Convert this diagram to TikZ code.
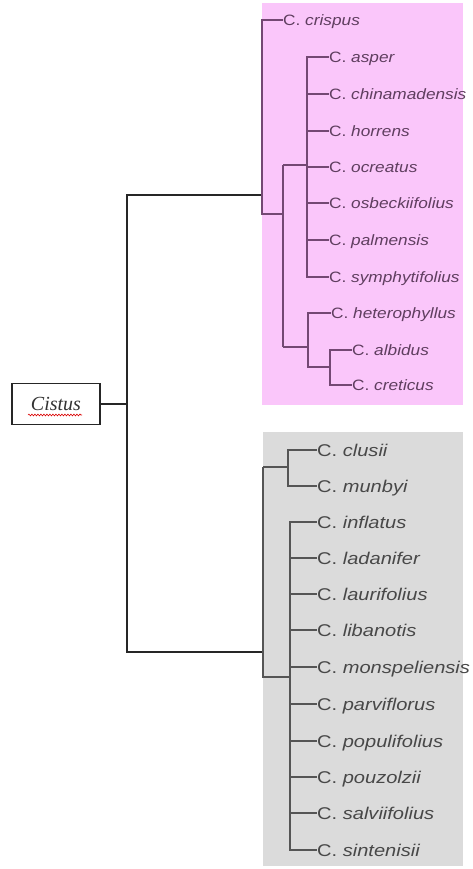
\documentclass[tikz,border=0pt]{standalone}
\usepackage{fontspec}
\usetikzlibrary{decorations.pathmorphing}
\newfontfamily\pinkfont{Liberation Sans}[FakeStretch=1.15]
\newfontfamily\grayfont{Liberation Sans}[FakeStretch=1.18]
\newfontfamily\rootfont{Liberation Serif}
\definecolor{pinkbg}{RGB}{250,198,250}
\definecolor{graybg}{RGB}{219,219,219}
\definecolor{pinkline}{RGB}{115,72,115}
\definecolor{pinktext}{RGB}{95,62,95}
\definecolor{grayline}{RGB}{85,85,85}
\definecolor{graytext}{RGB}{72,72,72}
\tikzset{
  plab/.style={anchor=west, inner sep=0pt, text=pinktext,
    font=\pinkfont\fontsize{15}{18}\selectfont, text height=10.7pt, text depth=0pt},
  glab/.style={anchor=west, inner sep=0pt, text=graytext,
    font=\grayfont\fontsize{17}{20}\selectfont, text height=12.2pt, text depth=0pt},
  pl/.style={draw=pinkline, line width=1.2pt},
  gl/.style={draw=grayline, line width=1.2pt},
  tl/.style={draw=black!85, line width=1.2pt},
  rootbox/.style={draw=black!85, line width=1.2pt, minimum width=88pt, minimum height=41pt,
    inner sep=0pt, font=\rootfont\itshape\fontsize{20}{22}\selectfont, text=black!80},
  wavy/.style={draw=red!85!black, line width=0.6pt, decorate,
    decoration={snake, amplitude=0.9pt, segment length=3pt}}
}
\begin{document}
\begin{tikzpicture}[x=1pt,y=1pt]
\useasboundingbox (0,0) rectangle (472,-869);
% backgrounds
\fill[pinkbg] (262,-3) rectangle (463,-405);
\fill[graybg] (263,-432) rectangle (463,-866);

% root
\node[rootbox] (root) at (56,-404) {Cistus};
\coordinate (w1) at (28,-415);
\coordinate (w2) at (82,-415);
\draw[wavy] (w1) -- (w2);

% upper leaves
\node[plab] (crispus) at (283,-20) {C. \textit{crispus}};
\node[plab] (asper) at (329,-57) {C. \textit{asper}};
\node[plab] (chin) at (329,-94) {C. \textit{chinamadensis}};
\node[plab] (horr) at (329,-131) {C. \textit{horrens}};
\node[plab] (ocre) at (329,-167) {C. \textit{ocreatus}};
\node[plab] (osbe) at (329,-203) {C. \textit{osbeckiifolius}};
\node[plab] (palm) at (329,-240) {C. \textit{palmensis}};
\node[plab] (symp) at (329,-277) {C. \textit{symphytifolius}};
\node[plab] (hete) at (331,-313) {C. \textit{heterophyllus}};
\node[plab] (albi) at (352,-350) {C. \textit{albidus}};
\node[plab] (cret) at (352,-385) {C. \textit{creticus}};

% lower leaves
\node[glab] (clus) at (317,-450) {C. \textit{clusii}};
\node[glab] (munb) at (317,-486) {C. \textit{munbyi}};
\node[glab] (infl) at (317,-522) {C. \textit{inflatus}};
\node[glab] (lada) at (317,-558) {C. \textit{ladanifer}};
\node[glab] (laur) at (317,-594) {C. \textit{laurifolius}};
\node[glab] (liba) at (317,-630) {C. \textit{libanotis}};
\node[glab] (mons) at (317,-667) {C. \textit{monspeliensis}};
\node[glab] (parv) at (317,-704) {C. \textit{parviflorus}};
\node[glab] (popu) at (317,-741) {C. \textit{populifolius}};
\node[glab] (pouz) at (317,-777) {C. \textit{pouzolzii}};
\node[glab] (salv) at (317,-813) {C. \textit{salviifolius}};
\node[glab] (sint) at (317,-850) {C. \textit{sintenisii}};

% internal points, upper
\coordinate (Aj) at (262,-195);
\coordinate (Ab) at (262,-214);
\coordinate (Bt) at (283,-165);
\coordinate (Bm) at (283,-214);
\coordinate (Bb) at (283,-347);
\coordinate (Cm) at (307,-165);
\coordinate (Dm) at (308,-347);
\coordinate (Dx) at (308,-367);
\coordinate (Em) at (330,-367);

% internal points, lower
\coordinate (Lt) at (263,-467);
\coordinate (Lm) at (263,-652);
\coordinate (Lb) at (263,-677);
\coordinate (Mx) at (288,-467);
\coordinate (Nx) at (290,-677);

% trunk
\coordinate (Tt) at (127,-195);
\coordinate (Tb) at (127,-652);
\draw[tl] (Aj) -- (Tt) -- (Tb) -- (Lm);
\draw[tl] (root.east) -- (root.east -| Tt);

% upper tree
\draw[pl] (crispus.west) -| (Ab) -- (Bm);
\draw[pl] (Bt) -- (Bb);
\draw[pl] (Bt) -- (Cm);
\draw[pl] (asper.west) -| (Cm) |- (symp.west);
\foreach \n in {chin,horr,ocre,osbe,palm}
  \draw[pl] (\n.west) -- (\n.west -| Cm);
\draw[pl] (Bb) -- (Dm);
\draw[pl] (hete.west) -| (Dx) -- (Em);
\draw[pl] (albi.west) -| (Em) |- (cret.west);

% lower tree
\draw[gl] (Lt) -- (Lb) -- (Nx);
\draw[gl] (Lt) -- (Mx);
\draw[gl] (clus.west) -| (Mx) |- (munb.west);
\draw[gl] (infl.west) -| (Nx) |- (sint.west);
\foreach \n in {lada,laur,liba,mons,parv,popu,pouz,salv}
  \draw[gl] (\n.west) -- (\n.west -| Nx);
\end{tikzpicture}
\end{document}
